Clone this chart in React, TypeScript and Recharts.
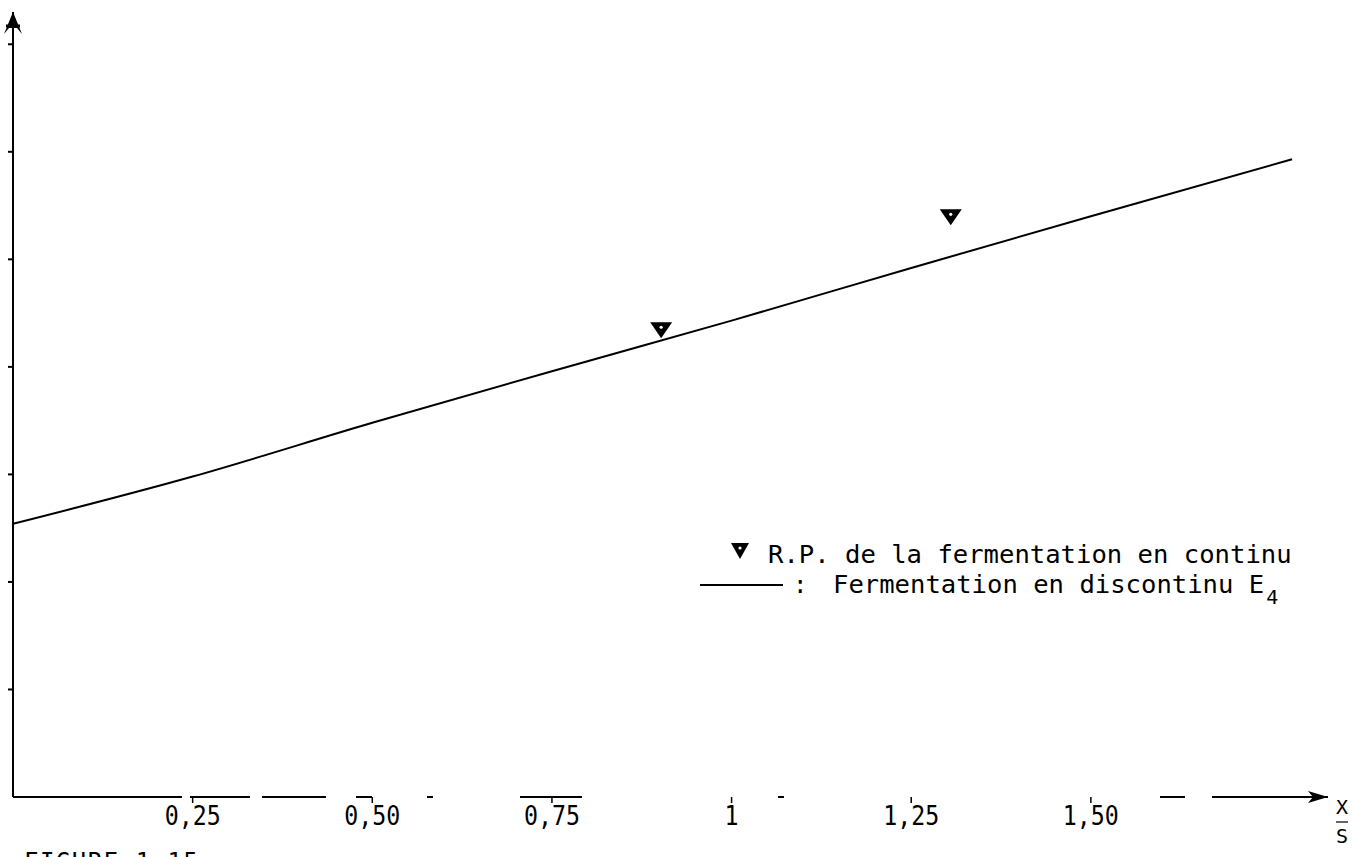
import React from "react";
import { ComposedChart, Line, Scatter, XAxis, YAxis, Legend } from "recharts";

// batch fermentation E4 curve
const curveX = [0, 0.25, 0.5, 0.75, 1.0, 1.25, 1.5, 1.78];
const curveY = [2.54, 2.98, 3.48, 3.96, 4.43, 4.92, 5.4, 5.93];

// continuous fermentation points
const pointX = [0.902, 1.305];
const pointY = [4.35, 5.4];

const xTicks = [0.25, 0.5, 0.75, 1, 1.25, 1.5];
const xTickLabels = ["0,25", "0,50", "0,75", "1", "1,25", "1,50"];
const yTicks = [1, 2, 3, 4, 5, 6, 7];

const FONT = "'DejaVu Sans Mono', 'Liberation Mono', monospace";
const PITCH = 15.4; // typewriter character pitch of the legend

const lineData = curveX.map((x, i) => ({ x, y: curveY[i] }));
const pointData = pointX.map((x, i) => ({ x, y: pointY[i] }));

// scanned axis line is broken up, mimic that
const X_AXIS_DASH = "169 8 60 12 64 30 16 55 6 87 62 196 6 376 25 27 116";

const XTick = (props: any) => {
  const { x, y, payload } = props;
  const label = xTickLabels[xTicks.indexOf(payload.value)] ?? "";
  return (
    <text
      x={x}
      y={y + 20}
      textAnchor="middle"
      fontFamily={FONT}
      fontSize={26}
      fill="#000"
      textLength={label.length * 14}
      lengthAdjust="spacingAndGlyphs"
    >
      {label}
    </text>
  );
};

// y axis has tick marks but no labels
const NoLabel = () => <g />;

const Triangle = (props: any) => {
  const { cx, cy } = props;
  if (cx == null || cy == null) return null;
  return (
    <g>
      <path d={`M${cx - 11},${cy - 7} L${cx + 11},${cy - 7} L${cx},${cy + 9} Z`} fill="#000" />
      <circle cx={cx} cy={cy - 2} r={1.6} fill="#fff" />
    </g>
  );
};

const XSLabel = (props: any) => {
  const vb = props.viewBox || {};
  const x = (vb.x ?? 0) + (vb.width ?? 0) + 14;
  const y = vb.y ?? 797;
  return (
    <g fontFamily={FONT} fontSize={20} fill="#000">
      <text x={x} y={y + 17} textAnchor="middle">X</text>
      <line x1={x - 6} x2={x + 6} y1={y + 25} y2={y + 25} stroke="#000" strokeWidth={1.2} />
      <text x={x} y={y + 46} textAnchor="middle">S</text>
    </g>
  );
};

const renderLegend = () => (
  <svg width={690} height={110} style={{ display: "block" }}>
    <g fontFamily={FONT} fontSize={24} fill="#000">
      <path d="M71,13 L89,13 L80,29 Z" fill="#000" />
      <circle cx={80} cy={18} r={1.6} fill="#fff" />
      <text x={108} y={33} textLength={34 * PITCH} lengthAdjust="spacingAndGlyphs">
        R.P. de la fermentation en continu
      </text>
      <line x1={40} x2={123} y1={55} y2={55} stroke="#000" strokeWidth={2} />
      <text x={133} y={63}>:</text>
      <text x={173} y={63} textLength={28 * PITCH} lengthAdjust="spacingAndGlyphs">
        Fermentation en discontinu E
      </text>
      <text x={173 + 28 * PITCH + 2} y={74} fontSize={20}>4</text>
    </g>
  </svg>
);

export default function App() {
  return (
    <div
      style={{
        position: "absolute",
        left: 0,
        top: 0,
        width: 1353,
        height: 857,
        overflow: "hidden",
        background: "#fff",
        fontFamily: FONT,
      }}
    >
      <svg width={0} height={0} style={{ position: "absolute" }}>
        <defs>
          <marker
            id="arrowY"
            viewBox="-2 -12 28 24"
            refX={22}
            refY={0}
            markerWidth={28}
            markerHeight={24}
            markerUnits="userSpaceOnUse"
            orient="auto-start-reverse"
          >
            <path d="M22,0 L0,-9 L6,-4 L6,4 L0,9 Z" fill="#000" />
            <path d="M8,-7 L8,7" stroke="#000" strokeWidth={3} />
          </marker>
          <marker
            id="arrowX"
            viewBox="-2 -8 24 16"
            refX={20}
            refY={0}
            markerWidth={24}
            markerHeight={16}
            markerUnits="userSpaceOnUse"
            orient="auto"
          >
            <path d="M20,0 L0,-6 L5,0 L0,6 Z" fill="#000" />
          </marker>
        </defs>
      </svg>

      <ComposedChart
        width={1353}
        height={857}
        margin={{ top: 12, right: 25, bottom: 30, left: 12 }}
      >
        <XAxis
          type="number"
          dataKey="x"
          domain={[0, 1.83]}
          ticks={xTicks}
          height={30}
          tickSize={6}
          tick={<XTick />}
          tickLine={{ stroke: "#000", strokeWidth: 1.5 }}
          axisLine={{
            stroke: "#000",
            strokeWidth: 1.8,
            strokeDasharray: X_AXIS_DASH,
            markerEnd: "url(#arrowX)",
          }}
          label={{ content: <XSLabel /> }}
          allowDataOverflow
        />
        <YAxis
          type="number"
          dataKey="y"
          domain={[0, 7.3]}
          ticks={yTicks}
          width={1}
          tickSize={5}
          tick={<NoLabel />}
          tickLine={{ stroke: "#000", strokeWidth: 2 }}
          axisLine={{ stroke: "#000", strokeWidth: 2, markerStart: "url(#arrowY)" }}
          allowDataOverflow
        />
        <Legend
          layout="horizontal"
          verticalAlign="middle"
          align="center"
          content={renderLegend}
          wrapperStyle={{ left: 660, top: 530, width: 690, height: 110 }}
        />
        <Line
          data={lineData}
          dataKey="y"
          type="monotone"
          stroke="#000"
          strokeWidth={2}
          dot={false}
          activeDot={false}
          legendType="none"
          isAnimationActive={false}
        />
        <Scatter
          data={pointData}
          dataKey="y"
          shape={<Triangle />}
          legendType="none"
          isAnimationActive={false}
        />
      </ComposedChart>

      <div
        style={{
          position: "absolute",
          left: 24,
          top: 848,
          fontFamily: FONT,
          fontSize: 24,
          letterSpacing: 1.5,
          color: "#000",
          whiteSpace: "nowrap",
        }}
      >
        FIGURE 1.15 :
      </div>
    </div>
  );
}
